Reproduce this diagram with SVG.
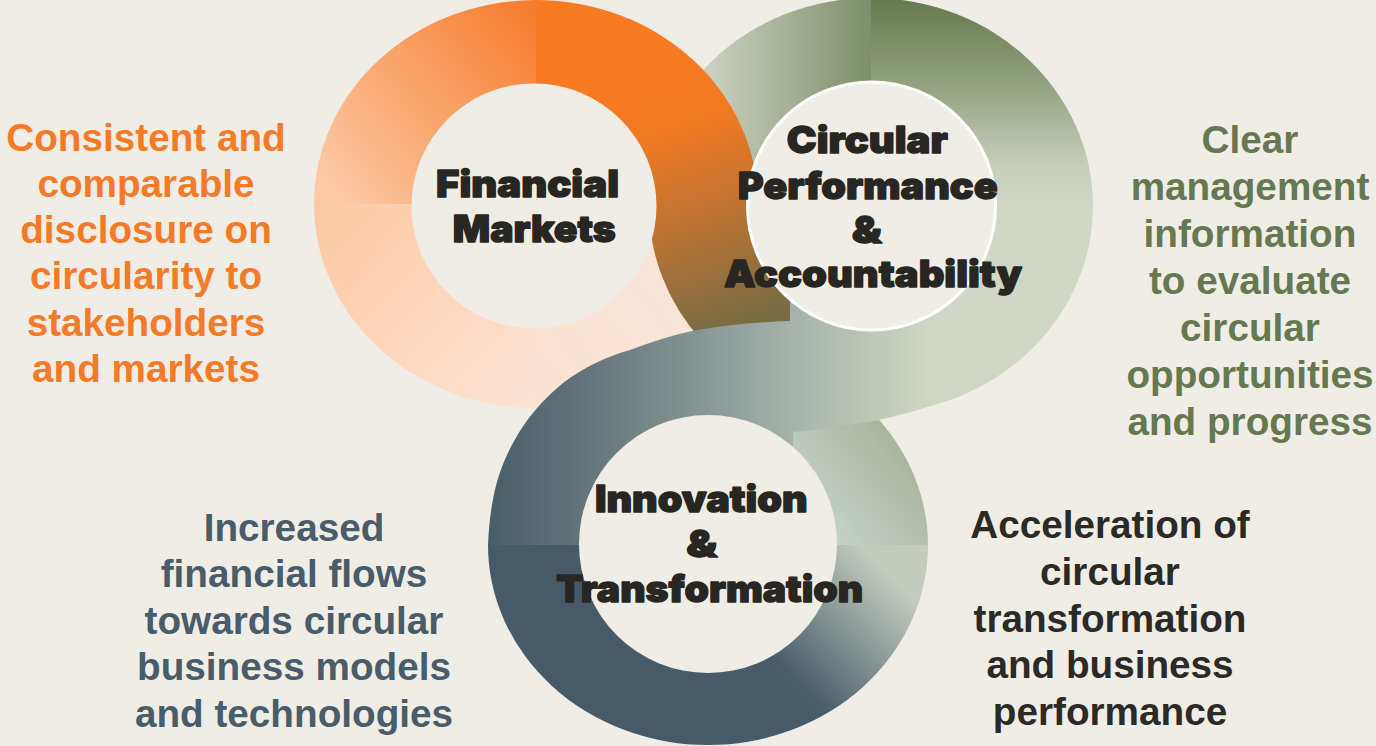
<svg xmlns="http://www.w3.org/2000/svg" width="1376" height="746" viewBox="0 0 1376 746">
<defs>
  <linearGradient id="g1tl" gradientUnits="userSpaceOnUse" x1="330" y1="195" x2="540" y2="20">
    <stop offset="0" stop-color="#fdcaa6"/><stop offset="1" stop-color="#f67d2e"/>
  </linearGradient>
  <linearGradient id="g1bl" gradientUnits="userSpaceOnUse" x1="320" y1="210" x2="520" y2="405">
    <stop offset="0" stop-color="#fdc9a4"/><stop offset="1" stop-color="#fde3d4"/>
  </linearGradient>
  <linearGradient id="g1br" gradientUnits="userSpaceOnUse" x1="540" y1="400" x2="720" y2="260">
    <stop offset="0" stop-color="#fde2d2"/><stop offset="1" stop-color="#f7e7db"/>
  </linearGradient>
  <linearGradient id="g1tr" gradientUnits="userSpaceOnUse" x1="640" y1="60" x2="730" y2="330">
    <stop offset="0" stop-color="#f77a20"/><stop offset="0.25" stop-color="#f37a22"/>
    <stop offset="0.55" stop-color="#c57431"/><stop offset="1" stop-color="#776c44"/>
  </linearGradient>
  <linearGradient id="g2tl" gradientUnits="userSpaceOnUse" x1="690" y1="0" x2="871" y2="0">
    <stop offset="0" stop-color="#d3d8c9"/><stop offset="1" stop-color="#7e8e69"/>
  </linearGradient>
  <linearGradient id="g2tr" gradientUnits="userSpaceOnUse" x1="0" y1="0" x2="0" y2="206">
    <stop offset="0" stop-color="#677a4f"/><stop offset="0.45" stop-color="#98a684"/>
    <stop offset="0.8" stop-color="#c6cebc"/><stop offset="1" stop-color="#d0d7c6"/>
  </linearGradient>
  <linearGradient id="g3tr" gradientUnits="userSpaceOnUse" x1="805" y1="530" x2="915" y2="440">
    <stop offset="0" stop-color="#cad5cf"/><stop offset="1" stop-color="#a6b19a"/>
  </linearGradient>
  <linearGradient id="g3br" gradientUnits="userSpaceOnUse" x1="785" y1="695" x2="900" y2="585">
    <stop offset="0" stop-color="#475b68"/><stop offset="0.1" stop-color="#485c69"/>
    <stop offset="1" stop-color="#c4ccbf"/>
  </linearGradient>
  <linearGradient id="g3band" gradientUnits="userSpaceOnUse" x1="488" y1="0" x2="935" y2="0">
    <stop offset="0" stop-color="#4a5e6a"/><stop offset="0.206" stop-color="#627479"/>
    <stop offset="0.43" stop-color="#7f908f"/><stop offset="0.61" stop-color="#9ca9a4"/>
    <stop offset="0.83" stop-color="#bac4b5"/><stop offset="1" stop-color="#d0d7c6"/>
  </linearGradient>
</defs>
<style>
  .hole{fill:#f0ede6}
  .title{font-family:Inter,"DejaVu Sans","Liberation Sans",sans-serif;font-weight:900;font-size:37px;fill:#272622;text-anchor:middle;stroke:#272622;stroke-width:1.3px;stroke-linejoin:round}
  .body{font-family:"Liberation Sans",Arial,sans-serif;font-weight:bold;font-size:38.7px;text-anchor:middle}
  .orange{fill:#f37b28}
  .green{fill:#66784f}
  .slate{fill:#485c69}
  .dark{fill:#2b2a26}
</style>
<rect width="1376" height="746" fill="#f0ede6"/>

<g id="ring-circular-performance-back">
  <path d="M871,206 L649,206 A222,208 0 0 1 871,-2 Z" fill="url(#g2tl)"/>
  <path d="M871,206 L871,-2 A222,208 0 0 1 1093,206 Z" fill="url(#g2tr)"/>
</g>

<g id="ring-financial-markets">
  <path d="M536,204 L314,204 A222,204 0 0 1 536,0 Z" fill="url(#g1tl)"/>
  <path d="M536,204 L314,204 A222,204 0 0 0 536,408 Z" fill="url(#g1bl)"/>
  <path d="M536,204 L536,408 A222,204 0 0 0 758,204 Z" fill="url(#g1br)"/>
  <path d="M536,204 L536,0 A222,204 0 0 1 758,204 L790,204 L790,340 L701,340 A222,208 0 0 1 649,206 Z" fill="url(#g1tr)"/>
  <circle class="hole" cx="534" cy="206" r="122.5"/>
</g>

<g id="ring-innovation-transformation">
  <path d="M708,545 L488,545 A220,200 0 0 0 708,745 Z" fill="#465a67"/>
  <path d="M708,545 L708,745 A220,200 0 0 0 928,545 Z" fill="url(#g3br)"/>
  <path d="M793,545 L793,361 A220,200 0 0 1 928,545 Z" fill="url(#g3tr)"/>
  <path d="M488,545 C490,500 498,470 513,443 C528,415 545,398 563,383 C583,368 605,357 630,350 C652,342 675,334 697,330 C727,325 760,322 790,321 L790,290 L990,206 L1093,206 A222,208 0 0 1 927,407 C900,416 860,426 793,432 L793,450 L708,450 L582,545 Z" fill="url(#g3band)"/>
  <circle class="hole" cx="708" cy="544" r="129"/>
</g>

<g id="ring-circular-performance-front">
  <circle class="hole" cx="871.5" cy="206" r="124" stroke="#ffffff" stroke-width="3"/>
</g>

<g id="node-financial-markets">
  <text class="title" x="527.5" y="197" textLength="183" lengthAdjust="spacingAndGlyphs">Financial</text>
  <text class="title" x="534.3" y="241.7" textLength="163" lengthAdjust="spacingAndGlyphs">Markets</text>
</g>
<g id="node-circular-performance">
  <text class="title" x="867.3" y="153.3" textLength="161" lengthAdjust="spacingAndGlyphs">Circular</text>
  <text class="title" x="867.7" y="199" textLength="260" lengthAdjust="spacingAndGlyphs">Performance</text>
  <text class="title" x="866.8" y="242.7" textLength="30" lengthAdjust="spacingAndGlyphs">&amp;</text>
  <text class="title" x="873" y="287.3" textLength="298" lengthAdjust="spacingAndGlyphs">Accountability</text>
</g>
<g id="node-innovation-transformation">
  <text class="title" x="701.3" y="512.3" textLength="212.7" lengthAdjust="spacingAndGlyphs">Innovation</text>
  <text class="title" x="701.7" y="556.7" textLength="31" lengthAdjust="spacingAndGlyphs">&amp;</text>
  <text class="title" x="709.7" y="602.3" textLength="307" lengthAdjust="spacingAndGlyphs">Transformation</text>
</g>

<g id="label-disclosure" class="body orange">
  <text x="146" y="150.5">Consistent and</text>
  <text x="146" y="196.8">comparable</text>
  <text x="146" y="243.1">disclosure on</text>
  <text x="146" y="289.4">circularity to</text>
  <text x="146" y="335.7">stakeholders</text>
  <text x="146" y="382">and markets</text>
</g>
<g id="label-management" class="body green">
  <text x="1250" y="152.7">Clear</text>
  <text x="1250" y="199.7">management</text>
  <text x="1250" y="246.7">information</text>
  <text x="1250" y="293.7">to evaluate</text>
  <text x="1250" y="340.7">circular</text>
  <text x="1250" y="387.7">opportunities</text>
  <text x="1250" y="434.7">and progress</text>
</g>
<g id="label-financial-flows" class="body slate">
  <text x="294" y="540.7">Increased</text>
  <text x="294" y="587.2">financial flows</text>
  <text x="294" y="633.7">towards circular</text>
  <text x="294" y="680.2">business models</text>
  <text x="294" y="726.7">and technologies</text>
</g>
<g id="label-acceleration" class="body dark">
  <text x="1110" y="538.3">Acceleration of</text>
  <text x="1110" y="585">circular</text>
  <text x="1110" y="631.7">transformation</text>
  <text x="1110" y="678.3">and business</text>
  <text x="1110" y="725">performance</text>
</g>
</svg>
